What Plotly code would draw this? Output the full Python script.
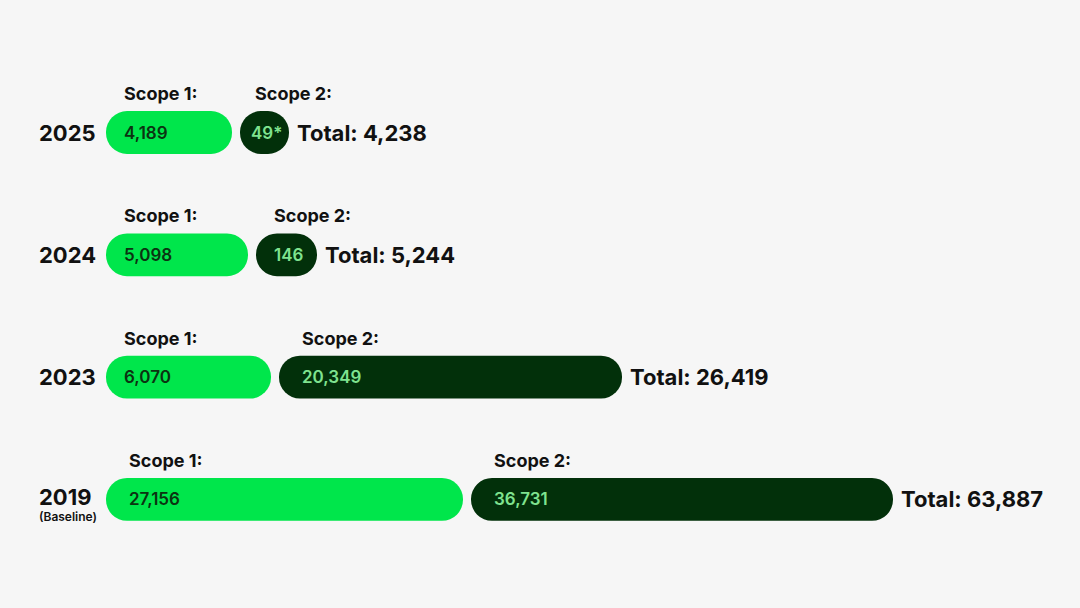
import plotly.graph_objects as go

# ---- data ----
years = ["2025", "2024", "2023", "2019"]
year_notes = ["", "", "", "(Baseline)"]
scope1 = [4189, 5098, 6070, 27156]
scope2 = [49, 146, 20349, 36731]
scope2_suffix = ["*", "", "", ""]
totals = [4238, 5244, 26419, 63887]
# drawn bar lengths as they appear in the picture (bars are not to scale)
scope1_len = [126, 142, 165, 357]
scope2_len = [49, 61, 343, 422]

# ---- style / layout ----
BG = "#F6F6F6"
GREEN = "#00E64B"
DARK = "#02300A"
TXT = "#111111"
S1_TXT = "#0B3311"
S2_TXT = "#7FE38F"
FONT = "Inter"
START = 106
GAP = 8
TOTAL_GAP = 6
BAR_W = 0.35

rows = list(range(len(years)))
s1_start = [START] * len(rows)
s2_start = [START + l + GAP for l in scope1_len]

fig = go.Figure()


def pill(starts, lens, color):
    fig.add_trace(go.Bar(
        orientation="h", y=rows, base=starts, x=lens,
        width=BAR_W, marker=dict(color=color, cornerradius="50%", line=dict(width=0)),
        hoverinfo="skip", showlegend=False))


pill(s1_start, scope1_len, GREEN)
pill(s2_start, scope2_len, DARK)

ann = []


def fmt(v):
    return f"{v:,}"


for i in rows:
    ann.append(dict(x=37, y=i, text=years[i], xanchor="left", yanchor="middle",
                    yshift=2 if year_notes[i] else 0, showarrow=False,
                    font=dict(family=FONT, size=22, weight=700, color=TXT)))
    if year_notes[i]:
        ann.append(dict(x=37, y=i, text=year_notes[i], xanchor="left", yanchor="middle",
                        yshift=-17, showarrow=False,
                        font=dict(family=FONT, size=12, weight=600, color=TXT)))
    for st, ln, val, suf, col, name in (
            (s1_start[i], scope1_len[i], scope1[i], "", S1_TXT, "Scope 1:"),
            (s2_start[i], scope2_len[i], scope2[i], scope2_suffix[i], S2_TXT, "Scope 2:")):
        if ln < 80:
            tx, anchor, lx = st + ln / 2 + 2, "center", st + ln * 0.26
        else:
            pad = 16 if ln < 200 else 21
            tx, anchor, lx = st + pad, "left", st + pad
        ann.append(dict(x=tx, y=i, text=fmt(val) + suf, xanchor=anchor, yanchor="middle",
                        showarrow=False,
                        font=dict(family=FONT, size=17, weight=600, color=col)))
        ann.append(dict(x=lx, y=i, text=name, xanchor="left", yanchor="middle",
                        yshift=39, showarrow=False,
                        font=dict(family=FONT, size=18, weight=700, color=TXT)))
    ann.append(dict(x=s2_start[i] + scope2_len[i] + TOTAL_GAP, y=i, text="Total: " + fmt(totals[i]),
                    xanchor="left", yanchor="middle", showarrow=False,
                    font=dict(family=FONT, size=22, weight=700, color=TXT)))

row_px = 122.3
top_px = 132.5
fig.update_layout(
    width=1080, height=608,
    margin=dict(l=0, r=0, t=0, b=0),
    paper_bgcolor=BG, plot_bgcolor=BG,
    barmode="overlay",
    xaxis=dict(range=[0, 1080], visible=False, fixedrange=True),
    yaxis=dict(range=[(608 - top_px) / row_px, -top_px / row_px], visible=False, fixedrange=True),
    annotations=ann,
    showlegend=False,
)

fig.write_html(
    "out.html",
    config={"displayModeBar": False},
    post_script="document.body.style.margin='0';document.body.style.background='#F6F6F6';",
)
